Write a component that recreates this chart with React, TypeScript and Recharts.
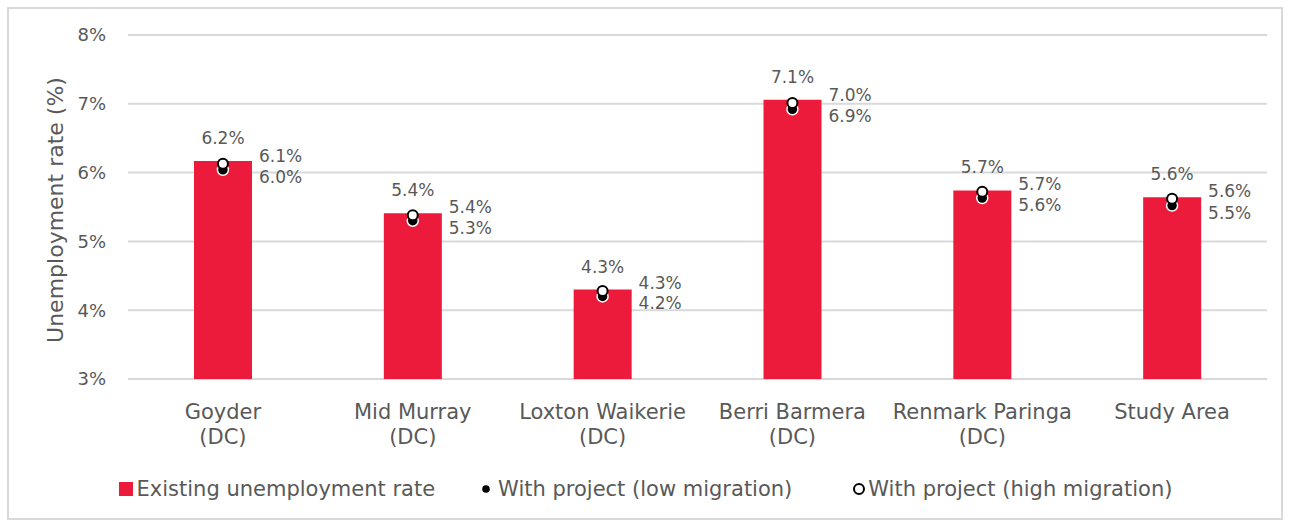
import {
  ComposedChart,
  Bar,
  Scatter,
  XAxis,
  YAxis,
  CartesianGrid,
  Legend,
  LabelList
} from "recharts";

const categories = [
  "Goyder\n(DC)",
  "Mid Murray\n(DC)",
  "Loxton Waikerie\n(DC)",
  "Berri Barmera\n(DC)",
  "Renmark Paringa\n(DC)",
  "Study Area"
];
const existingRate = [6.17, 5.41, 4.30, 7.06, 5.74, 5.64];
const lowMigration = [6.04, 5.30, 4.20, 6.92, 5.63, 5.52];
const highMigration = [6.13, 5.38, 4.28, 7.01, 5.72, 5.62];
const yTicks = [3, 4, 5, 6, 7, 8];

const data = categories.map((name, i) => ({
  name,
  existing: existingRate[i],
  low: lowMigration[i],
  high: highMigration[i]
}));

const FONT = "'DejaVu Sans', sans-serif";
const GREY = "#595959";
const RED = "#ED1B3B";

const pct = (v: number) => v.toFixed(1) + "%";

const CatTick = ({ x, y, payload }: any) => {
  const lines = String(payload.value).split("\n");
  return (
    <g>
      {lines.map((l, i) => (
        <text key={i} x={x} y={y + 33 + i * 25} textAnchor="middle" dominantBaseline="central"
          fontSize={21} fill={GREY} fontFamily={FONT}>
          {l}
        </text>
      ))}
    </g>
  );
};

const BarLabel = (props: any) => {
  const { x, y, width, value } = props;
  return (
    <text x={x + width / 2} y={y - 23} textAnchor="middle" dominantBaseline="central"
      fontSize={17} fill={GREY} fontFamily={FONT}>
      {pct(value)}
    </text>
  );
};

// dots draw their own labels to the right of the bar
const LowDot = (props: any) => {
  const { cx, cy, payload } = props;
  return (
    <g>
      <circle cx={cx} cy={cy} r={5.5} fill="#000" stroke="#fff" strokeWidth={1.5} />
      <text x={cx + 36} y={cy + 7} dominantBaseline="central" fontSize={17} fill={GREY} fontFamily={FONT}>
        {pct(payload.low)}
      </text>
    </g>
  );
};

const HighDot = (props: any) => {
  const { cx, cy, payload } = props;
  return (
    <g>
      <circle cx={cx} cy={cy} r={5} fill="#fff" stroke="#000" strokeWidth={2} />
      <text x={cx + 36} y={cy - 8} dominantBaseline="central" fontSize={17} fill={GREY} fontFamily={FONT}>
        {pct(payload.high)}
      </text>
    </g>
  );
};

const LegendBox = () => (
  <div style={{ display: "flex", justifyContent: "center", alignItems: "center", height: 24,
    fontFamily: FONT, fontSize: 21, color: GREY, paddingRight: 4, whiteSpace: "nowrap" }}>
    <span style={{ display: "inline-block", width: 14, height: 14, background: RED, marginRight: 4 }} />
    <span>Existing unemployment rate</span>
    <svg width={10} height={10} style={{ marginLeft: 46, marginRight: 7 }}>
      <circle cx={5} cy={5} r={3.8} fill="#000" />
    </svg>
    <span>With project (low migration)</span>
    <svg width={14} height={14} style={{ marginLeft: 60, marginRight: 2 }}>
      <circle cx={7} cy={7} r={5} fill="#fff" stroke="#000" strokeWidth={2} />
    </svg>
    <span>With project (high migration)</span>
  </div>
);

export default function App() {
  return (
    <div style={{ position: "absolute", left: 7, top: 7, width: 1276, height: 513,
      border: "2px solid #d9d9d9", boxSizing: "border-box", background: "#fff" }}>
      <ComposedChart width={1272} height={509} data={data}
        margin={{ top: 26, right: 14, left: 19, bottom: 45 }}>
        <CartesianGrid stroke="#d9d9d9" strokeWidth={2} vertical={false} />
        <XAxis dataKey="name" type="category" axisLine={false} tickLine={false}
          tickSize={0} tickMargin={0} height={70} interval={0} tick={<CatTick />} />
        <YAxis type="number" domain={[3, 8]} ticks={yTicks} width={100}
          axisLine={false} tickLine={false} tickSize={0} tickMargin={22}
          tickFormatter={(v) => v + "%"}
          tick={{ fontSize: 18, fill: GREY, fontFamily: FONT }}
          label={({ viewBox }: any) => (
            <text x={viewBox.x + 27} y={viewBox.y + viewBox.height / 2 + 3} textAnchor="middle"
              dominantBaseline="central" fontSize={22} fill={GREY} fontFamily={FONT}
              transform={`rotate(-90, ${viewBox.x + 27}, ${viewBox.y + viewBox.height / 2 + 3})`}>
              Unemployment rate (%)
            </text>
          )} />
        <Legend verticalAlign="bottom" content={<LegendBox />} wrapperStyle={{ bottom: 17 }} />
        <Bar dataKey="existing" name="Existing unemployment rate" fill={RED} barSize={58}
          isAnimationActive={false}>
          <LabelList dataKey="existing" content={<BarLabel />} />
        </Bar>
        <Scatter dataKey="low" name="With project (low migration)" fill="#000"
          shape={<LowDot />} isAnimationActive={false} />
        <Scatter dataKey="high" name="With project (high migration)" fill="#fff"
          shape={<HighDot />} isAnimationActive={false} />
      </ComposedChart>
    </div>
  );
}
